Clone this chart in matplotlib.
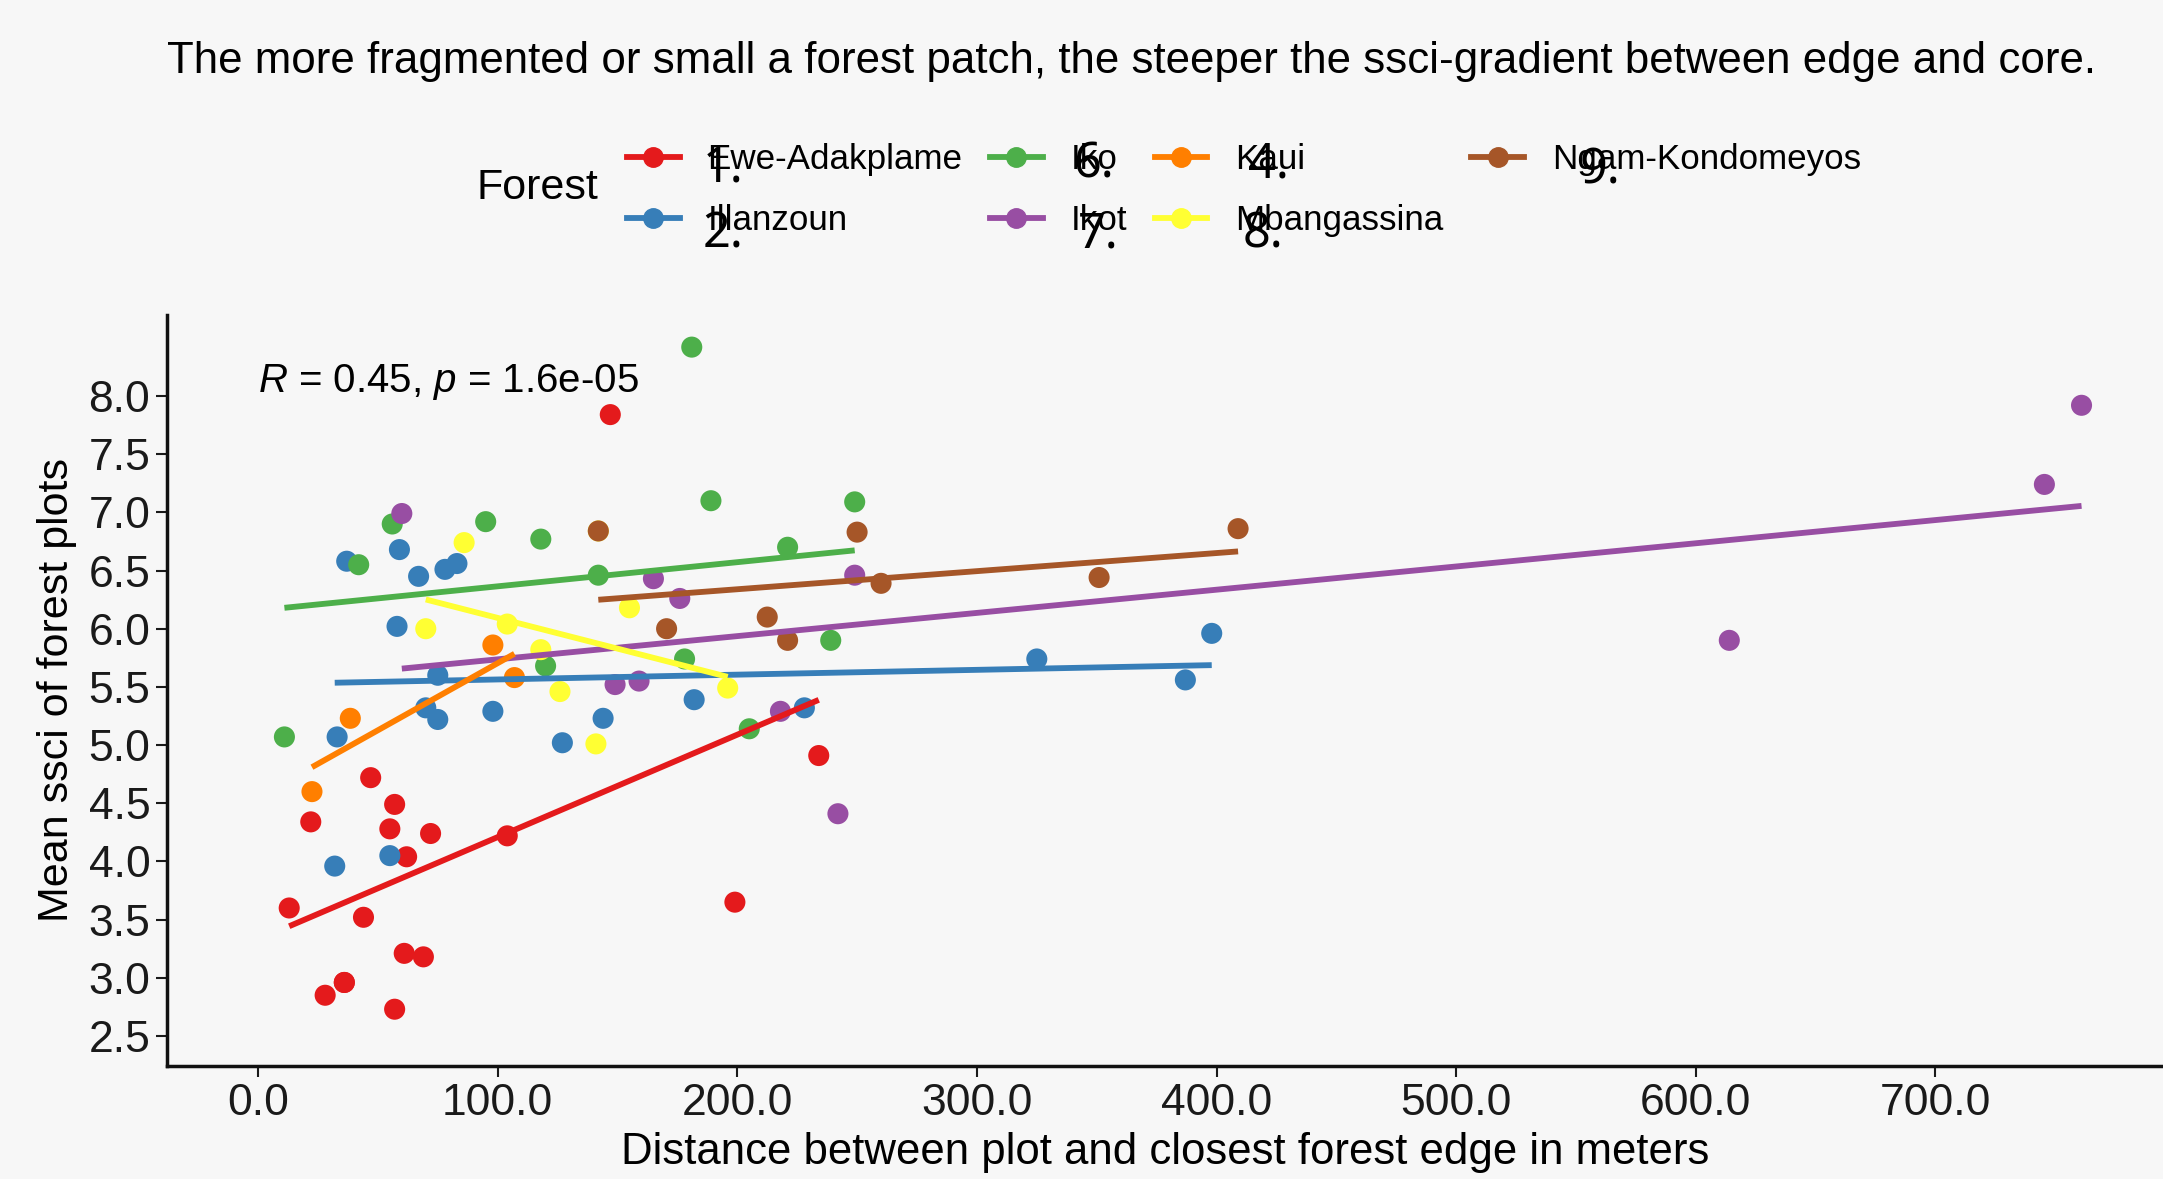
import numpy as np
import matplotlib
matplotlib.use("Agg")
import matplotlib.pyplot as plt
from matplotlib.lines import Line2D

plt.rcParams['font.family'] = ['Liberation Sans', 'DejaVu Sans']
plt.rcParams['mathtext.fontset'] = 'custom'
plt.rcParams['mathtext.it'] = 'Liberation Sans:italic'
plt.rcParams['mathtext.rm'] = 'Liberation Sans'

# ---- data ----
forests = ["Ewe-Adakplame", "Illanzoun", "Iko", "Ikot", "Kaui", "Mbangassina", "Ngam-Kondomeyos"]
colors = ["#E41A1C", "#377EB8", "#4DAF4A", "#984EA3", "#FF7F00", "#FFFF33", "#A65628"]
overlay_marks = ["1.", "2.", "6.", "7.", "4.", "8.", "9."]

# some plots sit on top of each other (duplicates / hidden behind other forests)
ewe_x = [13, 22, 28, 36, 36, 44, 47, 55, 57, 57, 62, 61, 69, 72, 104, 147, 199, 234]
ewe_y = [3.60, 4.34, 2.85, 2.96, 2.96, 3.52, 4.72, 4.28, 4.49, 2.73, 4.04, 3.21, 3.18, 4.24, 4.22, 7.84, 3.65, 4.91]

ila_x = [33, 32, 37, 55, 58, 59, 67, 70, 75, 75, 78, 83, 98, 127, 144, 182, 228, 325, 387, 398]
ila_y = [5.07, 3.96, 6.58, 4.05, 6.02, 6.68, 6.45, 5.32, 5.22, 5.60, 6.51, 6.56, 5.29, 5.02, 5.23, 5.39, 5.32, 5.74, 5.56, 5.96]

iko_x = [11, 42, 56, 95, 118, 120, 142, 178, 181, 189, 205, 221, 239, 249]
iko_y = [5.07, 6.55, 6.90, 6.92, 6.77, 5.68, 6.46, 5.74, 8.42, 7.10, 5.14, 6.70, 5.90, 7.09]

ikot_x = [60, 149, 159, 165, 176, 218, 242, 249, 614, 745.5, 761]
ikot_y = [6.99, 5.52, 5.55, 6.43, 6.26, 5.29, 4.41, 6.46, 5.90, 7.24, 7.92]

kaui_x = [22.5, 38.5, 98, 107]
kaui_y = [4.60, 5.23, 5.86, 5.58]

mba_x = [70, 86, 104, 118, 126, 141, 142, 155, 196]
mba_y = [6.00, 6.74, 6.04, 5.82, 5.46, 5.01, 6.84, 6.18, 5.49]

ngam_x = [142, 170.5, 212.5, 221, 250, 260, 351, 409]
ngam_y = [6.84, 6.00, 6.10, 5.90, 6.83, 6.39, 6.44, 6.86]

xs = [ewe_x, ila_x, iko_x, ikot_x, kaui_x, mba_x, ngam_x]
ys = [ewe_y, ila_y, iko_y, ikot_y, kaui_y, mba_y, ngam_y]

x_ticks = [0, 100, 200, 300, 400, 500, 600, 700]
y_ticks = [2.5, 3.0, 3.5, 4.0, 4.5, 5.0, 5.5, 6.0, 6.5, 7.0, 7.5, 8.0]

bg = "#F7F7F7"
W, H = 2163, 1179

fig = plt.figure(figsize=(W / 100, H / 100), dpi=100, facecolor=bg)
ax = fig.add_axes([167 / W, 1 - 1066 / H, (W - 167) / W, (1066 - 315) / H])
ax.set_facecolor(bg)

# points first, then per-forest linear fits
for x, y, c in zip(xs, ys, colors):
    ax.scatter(x, y, s=230, color=c, edgecolors='none', zorder=2)
for x, y, c in zip(xs, ys, colors):
    x = np.array(x, dtype=float)
    k, b = np.polyfit(x, y, 1)
    xx = np.array([x.min(), x.max()])
    ax.plot(xx, k * xx + b, color=c, lw=4.2, zorder=3, solid_capstyle='butt')

ax.set_xlim(-38, 795)
ax.set_ylim(2.242, 8.696)
ax.set_xticks(x_ticks)
ax.set_xticklabels([f"{v:.1f}" for v in x_ticks])
ax.set_yticks(y_ticks)
ax.set_yticklabels([f"{v:.1f}" for v in y_ticks])
ax.tick_params(labelsize=32, length=8, width=1.5, pad=4, colors='#1a1a1a')
for s in ['top', 'right']:
    ax.spines[s].set_visible(False)
for s in ['left', 'bottom']:
    ax.spines[s].set_linewidth(2.5)
    ax.spines[s].set_color('#111111')

ax.set_xlabel("Distance between plot and closest forest edge in meters", fontsize=31.5, labelpad=6)
ax.set_ylabel("Mean ssci of forest plots", fontsize=31, labelpad=8)

ax.text(0, 8.12, r"$\mathit{R}$ = 0.45, $\mathit{p}$ = 1.6e-05", fontsize=29, va='center', ha='left')

fig.text(167 / W, 1 - 61 / H, "The more fragmented or small a forest patch, the steeper the ssci-gradient between edge and core.",
         fontsize=31.6, ha='left', va='center')

# legend
handles = [Line2D([0], [0], color=c, lw=4.2, marker='o', markersize=14) for c in colors]
fig.legend(handles, forests, ncol=4, loc='center left', bbox_to_anchor=(627 / W, 1 - 190 / H),
           frameon=False, fontsize=25.2, handlelength=1.5, handletextpad=0.8, columnspacing=0.79,
           labelspacing=0.8, borderpad=0, borderaxespad=0)
fig.text(477 / W, 1 - 188 / H, "Forest", fontsize=31, va='center', ha='left')

# numbers written over the legend labels
mark_pos = [(703, 182), (703, 248), (1073, 178), (1078, 248), (1248, 178), (1243, 248), (1580, 183)]
for m, (px, py) in zip(overlay_marks, mark_pos):
    fig.text(px / W, 1 - py / H, m, fontsize=35, family=['Noto Sans', 'DejaVu Sans'],
             ha='left', va='baseline', color='black')

fig.savefig("out.png", dpi=100, facecolor=bg)
